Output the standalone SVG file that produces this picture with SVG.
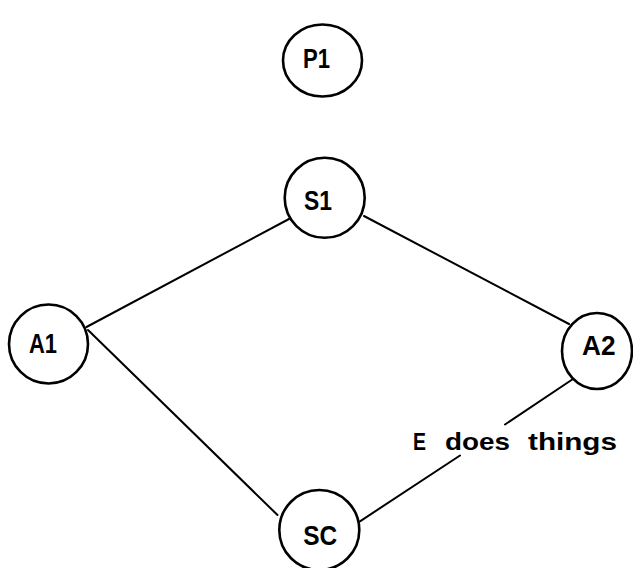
<svg xmlns="http://www.w3.org/2000/svg" width="633" height="568" viewBox="0 0 633 568">
<style>
.node{fill:#fff;stroke:#000;stroke-width:2.6}
.lbl{font-family:"Liberation Sans",Arial,sans-serif;font-weight:bold;font-size:27px;fill:#000}
.edge{stroke:#000;stroke-width:2;fill:none;stroke-linecap:round}
.el{font-family:"Liberation Sans",Arial,sans-serif;font-weight:bold;font-size:24px;fill:#000}
</style>
<rect width="633" height="568" fill="#fff"/>
<g id="connectors">
<line class="edge" x1="86.5" y1="327" x2="289" y2="219"/>
<line class="edge" x1="364" y1="216" x2="569" y2="324"/>
<line class="edge" x1="88" y1="330" x2="277.5" y2="515"/>
<line class="edge" x1="360" y1="521.3" x2="460" y2="455.5"/>
<line class="edge" x1="505" y1="424.5" x2="573" y2="379"/>
<text class="el" y="449.5"><tspan x="413" textLength="13" lengthAdjust="spacingAndGlyphs">E</tspan> <tspan x="445" textLength="65" lengthAdjust="spacingAndGlyphs">does</tspan> <tspan x="528" textLength="89" lengthAdjust="spacingAndGlyphs">things</tspan></text>
</g>
<g id="P1">
<ellipse class="node" cx="322.5" cy="60.5" rx="39.5" ry="36"/>
<text class="lbl" x="303" y="68.3" textLength="27" lengthAdjust="spacingAndGlyphs">P1</text>
</g>
<g id="S1">
<circle class="node" cx="324.7" cy="197.8" r="40"/>
<text class="lbl" x="304" y="210" textLength="28" lengthAdjust="spacingAndGlyphs">S1</text>
</g>
<g id="A1">
<circle class="node" cx="48.5" cy="344" r="39.5"/>
<text class="lbl" x="29" y="353" textLength="28" lengthAdjust="spacingAndGlyphs">A1</text>
</g>
<g id="A2">
<ellipse class="node" cx="597" cy="351" rx="35" ry="38"/>
<text class="lbl" x="582" y="355" textLength="33.5" lengthAdjust="spacingAndGlyphs">A2</text>
</g>
<g id="SC">
<circle class="node" cx="319.3" cy="530" r="40"/>
<text class="lbl" x="303.3" y="545" textLength="34" lengthAdjust="spacingAndGlyphs">SC</text>
</g>
</svg>
